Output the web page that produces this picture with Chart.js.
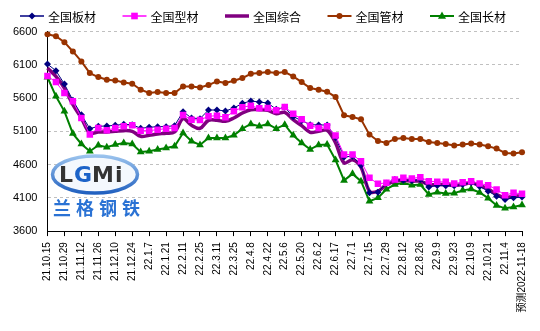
<!DOCTYPE html>
<html>
<head>
<meta charset="utf-8">
<script src="https://cdn.jsdelivr.net/npm/chart.js@4.4.0/dist/chart.umd.min.js"></script>
<style>
  html, body { margin: 0; padding: 0; background: #fff; }
  #wrap { width: 540px; height: 331px; }
</style>
</head>
<body>
<div id="wrap"><canvas id="priceChart"></canvas></div>
<script>
// weekly dates, only every other one is shown on the axis
const weeks = [
  '21.10.15', '21.10.22', '21.10.29', '21.11.5', '21.11.12', '21.11.19', '21.11.26', '21.12.3',
  '21.12.10', '21.12.17', '21.12.24', '21.12.31', '22.1.7', '22.1.14', '22.1.21', '22.1.28',
  '22.2.11', '22.2.18', '22.2.25', '22.3.4', '22.3.11', '22.3.18', '22.3.25', '22.4.1',
  '22.4.8', '22.4.15', '22.4.22', '22.4.29', '22.5.6', '22.5.13', '22.5.20', '22.5.27',
  '22.6.2', '22.6.10', '22.6.17', '22.6.24', '22.7.1', '22.7.8', '22.7.15', '22.7.22',
  '22.7.29', '22.8.5', '22.8.12', '22.8.19', '22.8.26', '22.9.2', '22.9.9', '22.9.16',
  '22.9.23', '22.9.30', '22.10.9', '22.10.14', '22.10.21', '22.10.28', '22.11.4', '22.11.11',
  '预测2022-11-18'
];

const plate = [6110, 6010, 5810, 5565, 5350, 5140, 5175, 5180, 5190, 5205, 5200, 5145, 5160, 5170, 5170, 5185,
  5395, 5300, 5290, 5420, 5420, 5405, 5450, 5520, 5555, 5540, 5525, 5430, 5460, 5320, 5260, 5200,
  5195, 5195, 5005, 4715, 4725, 4590, 4175, 4185, 4320, 4375, 4365, 4360, 4375, 4262, 4285, 4280,
  4280, 4300, 4325, 4270, 4200, 4125, 4075, 4100, 4112];

const section = [5930, 5840, 5675, 5550, 5300, 5050, 5150, 5115, 5150, 5175, 5190, 5110, 5110, 5125, 5140, 5150,
  5345, 5275, 5270, 5325, 5335, 5310, 5400, 5462, 5485, 5445, 5450, 5415, 5465, 5365, 5280, 5185,
  5150, 5175, 5035, 4750, 4750, 4650, 4400, 4310, 4325, 4375, 4400, 4390, 4410, 4350, 4340, 4340,
  4315, 4335, 4350, 4315, 4290, 4225, 4140, 4175, 4160];

const overall = [6050, 5925, 5750, 5500, 5300, 5075, 5090, 5090, 5100, 5110, 5100, 5025, 5040, 5060, 5070, 5090,
  5290, 5190, 5145, 5265, 5265, 5250, 5300, 5375, 5425, 5425, 5415, 5365, 5385, 5275, 5185, 5085,
  5100, 5115, 4925, 4625, 4670, 4560, 4200, 4200, 4300, 4350, 4365, 4350, 4350, 4300, 4300, 4300,
  4285, 4300, 4325, 4285, 4235, 4150, 4100, 4125, 4125];

const pipe = [6560, 6530, 6440, 6300, 6150, 5975, 5915, 5875, 5865, 5835, 5815, 5725, 5675, 5690, 5675, 5675,
  5775, 5775, 5760, 5795, 5850, 5825, 5860, 5900, 5965, 5975, 5990, 5975, 5990, 5925, 5840, 5750,
  5725, 5695, 5615, 5340, 5315, 5280, 5050, 4955, 4925, 4985, 5000, 4985, 4985, 4940, 4925, 4910,
  4885, 4900, 4915, 4900, 4875, 4840, 4775, 4765, 4785];

const longSteel = [5912, 5625, 5400, 5065, 4910, 4800, 4890, 4860, 4900, 4925, 4910, 4790, 4800, 4825, 4850, 4875,
  5075, 4950, 4895, 5000, 5000, 5000, 5040, 5140, 5210, 5175, 5210, 5140, 5200, 5040, 4925, 4828,
  4895, 4900, 4668, 4362, 4460, 4350, 4050, 4100, 4230, 4300, 4325, 4290, 4300, 4150, 4185, 4165,
  4170, 4212, 4232, 4180, 4095, 3985, 3942, 3962, 3992];

const seriesNames = ['全国板材', '全国型材', '全国综合', '全国管材', '全国长材'];
const yTicks = { min: 3600, max: 6600, step: 500 };

function drawMarker(ctx, style, x, y, r, color) {
    ctx.save();
    ctx.fillStyle = color;
    ctx.beginPath();
    if (style === 'rectRot') {
        ctx.moveTo(x, y - r); ctx.lineTo(x + r, y); ctx.lineTo(x, y + r); ctx.lineTo(x - r, y);
    } else if (style === 'rect') {
        const s = r * 0.72;
        ctx.rect(x - s, y - s, 2 * s, 2 * s);
    } else if (style === 'triangle') {
        ctx.moveTo(x, y - r); ctx.lineTo(x + r * 0.9, y + r * 0.6); ctx.lineTo(x - r * 0.9, y + r * 0.6);
    } else if (style === 'circle') {
        ctx.arc(x, y, r, 0, Math.PI * 2);
    }
    if (style) { ctx.closePath(); ctx.fill(); }
    ctx.restore();
}

// legend row at the top: line + marker + name
const lineLegend = {
    id: 'lineLegend',
    afterDraw(chart) {
        const ctx = chart.ctx;
        ctx.save();
        chart.data.datasets.forEach((ds, i) => {
            const x0 = 20 + i * 102.5;
            const y = 16;
            ctx.strokeStyle = ds.borderColor;
            ctx.lineWidth = ds.borderWidth < 2 ? 1.5 : ds.borderWidth;
            ctx.beginPath();
            ctx.moveTo(x0, y);
            ctx.lineTo(x0 + 24, y);
            ctx.stroke();
            if (ds.pointRadius > 0) drawMarker(ctx, ds.pointStyle, x0 + 12, y, ds.pointRadius, ds.borderColor);
            ctx.fillStyle = '#000';
            ctx.font = "12px 'Noto Sans CJK SC'";
            ctx.textBaseline = 'middle';
            ctx.fillText(ds.label, x0 + 28, y + 1);
        });
        ctx.restore();
    }
};

// watermark logo in the lower left corner
const logo = {
    id: 'logo',
    beforeDatasetsDraw(chart) {
        const ctx = chart.ctx;
        ctx.save();
        const grad = ctx.createLinearGradient(0, 155, 0, 194);
        grad.addColorStop(0, '#9cc4ee');
        grad.addColorStop(1, '#1f5fbf');
        ctx.beginPath();
        ctx.ellipse(95, 174.5, 42.5, 18.5, 0, 0, Math.PI * 2);
        ctx.fillStyle = '#f4f8fd';
        ctx.fill();
        ctx.lineWidth = 3.5;
        ctx.strokeStyle = grad;
        ctx.stroke();
        ctx.font = "bold 22px 'DejaVu Sans'";
        ctx.textBaseline = 'middle';
        ctx.fillStyle = '#333';
        ctx.fillText('L', 59, 176);
        ctx.fillStyle = '#1c63c8';
        ctx.fillText('G', 74, 176);
        ctx.fillStyle = '#333';
        ctx.fillText('M', 92, 176);
        ctx.fillText('i', 115, 176);
        ctx.fillStyle = '#2a72d4';
        ctx.font = "bold 18px 'Noto Sans CJK SC'";
        '兰格钢铁'.split('').forEach((c, k) => ctx.fillText(c, 53 + k * 23, 208));
        ctx.restore();
    }
};

const ctx = document.getElementById('priceChart').getContext('2d');
new Chart(ctx, {
    type: 'line',
    data: {
        labels: weeks,
        datasets: [
            { label: seriesNames[0], data: plate, borderColor: '#000080', backgroundColor: '#000080',
              borderWidth: 1, pointStyle: 'rectRot', pointRadius: 3.5, pointBorderWidth: 0, order: 2 },
            { label: seriesNames[1], data: section, borderColor: '#ff00ff', backgroundColor: '#ff00ff',
              borderWidth: 1, pointStyle: 'rect', pointRadius: 4.6, pointBorderWidth: 0, order: 1 },
            { label: seriesNames[2], data: overall, borderColor: '#800080', backgroundColor: '#800080',
              borderWidth: 3.5, pointRadius: 0, tension: 0.35, order: 3 },
            { label: seriesNames[3], data: pipe, borderColor: '#993300', backgroundColor: '#993300',
              borderWidth: 2, pointStyle: 'circle', pointRadius: 3, pointBorderWidth: 0, order: 5 },
            { label: seriesNames[4], data: longSteel, borderColor: '#008000', backgroundColor: '#008000',
              borderWidth: 2, pointStyle: 'triangle', pointRadius: 4.5, pointBorderWidth: 0, order: 4 }
        ]
    },
    options: {
        responsive: true,
        maintainAspectRatio: false,
        animation: false,
        layout: { padding: { left: 3, right: 16, top: 31.5, bottom: 12.5 } },
        plugins: {
            legend: { display: false },
            tooltip: { enabled: false }
        },
        scales: {
            x: {
                offset: false,
                grid: {
                    drawOnChartArea: false,
                    drawTicks: true,
                    tickLength: 5,
                    tickColor: c => (c.index % 2 === 0 ? '#000' : 'rgba(0,0,0,0)')
                },
                border: { color: '#000', width: 1 },
                ticks: {
                    autoSkip: false,
                    maxRotation: 90,
                    minRotation: 90,
                    padding: 6,
                    color: '#000',
                    font: { family: "'Liberation Sans', 'Noto Sans CJK SC'", size: 10 },
                    callback: function (value, index) {
                        return index % 2 === 0 ? this.getLabelForValue(value) : '';
                    }
                }
            },
            y: {
                min: yTicks.min,
                max: yTicks.max,
                grid: { color: '#c0c0c0', drawTicks: false },
                border: { color: '#000', width: 1, dash: [3, 3] },
                ticks: {
                    stepSize: yTicks.step,
                    padding: 10,
                    color: '#000',
                    font: { family: "'Liberation Sans'", size: 11 },
                    callback: v => String(v)
                }
            }
        }
    },
    plugins: [logo, lineLegend]
});
</script>
</body>
</html>
